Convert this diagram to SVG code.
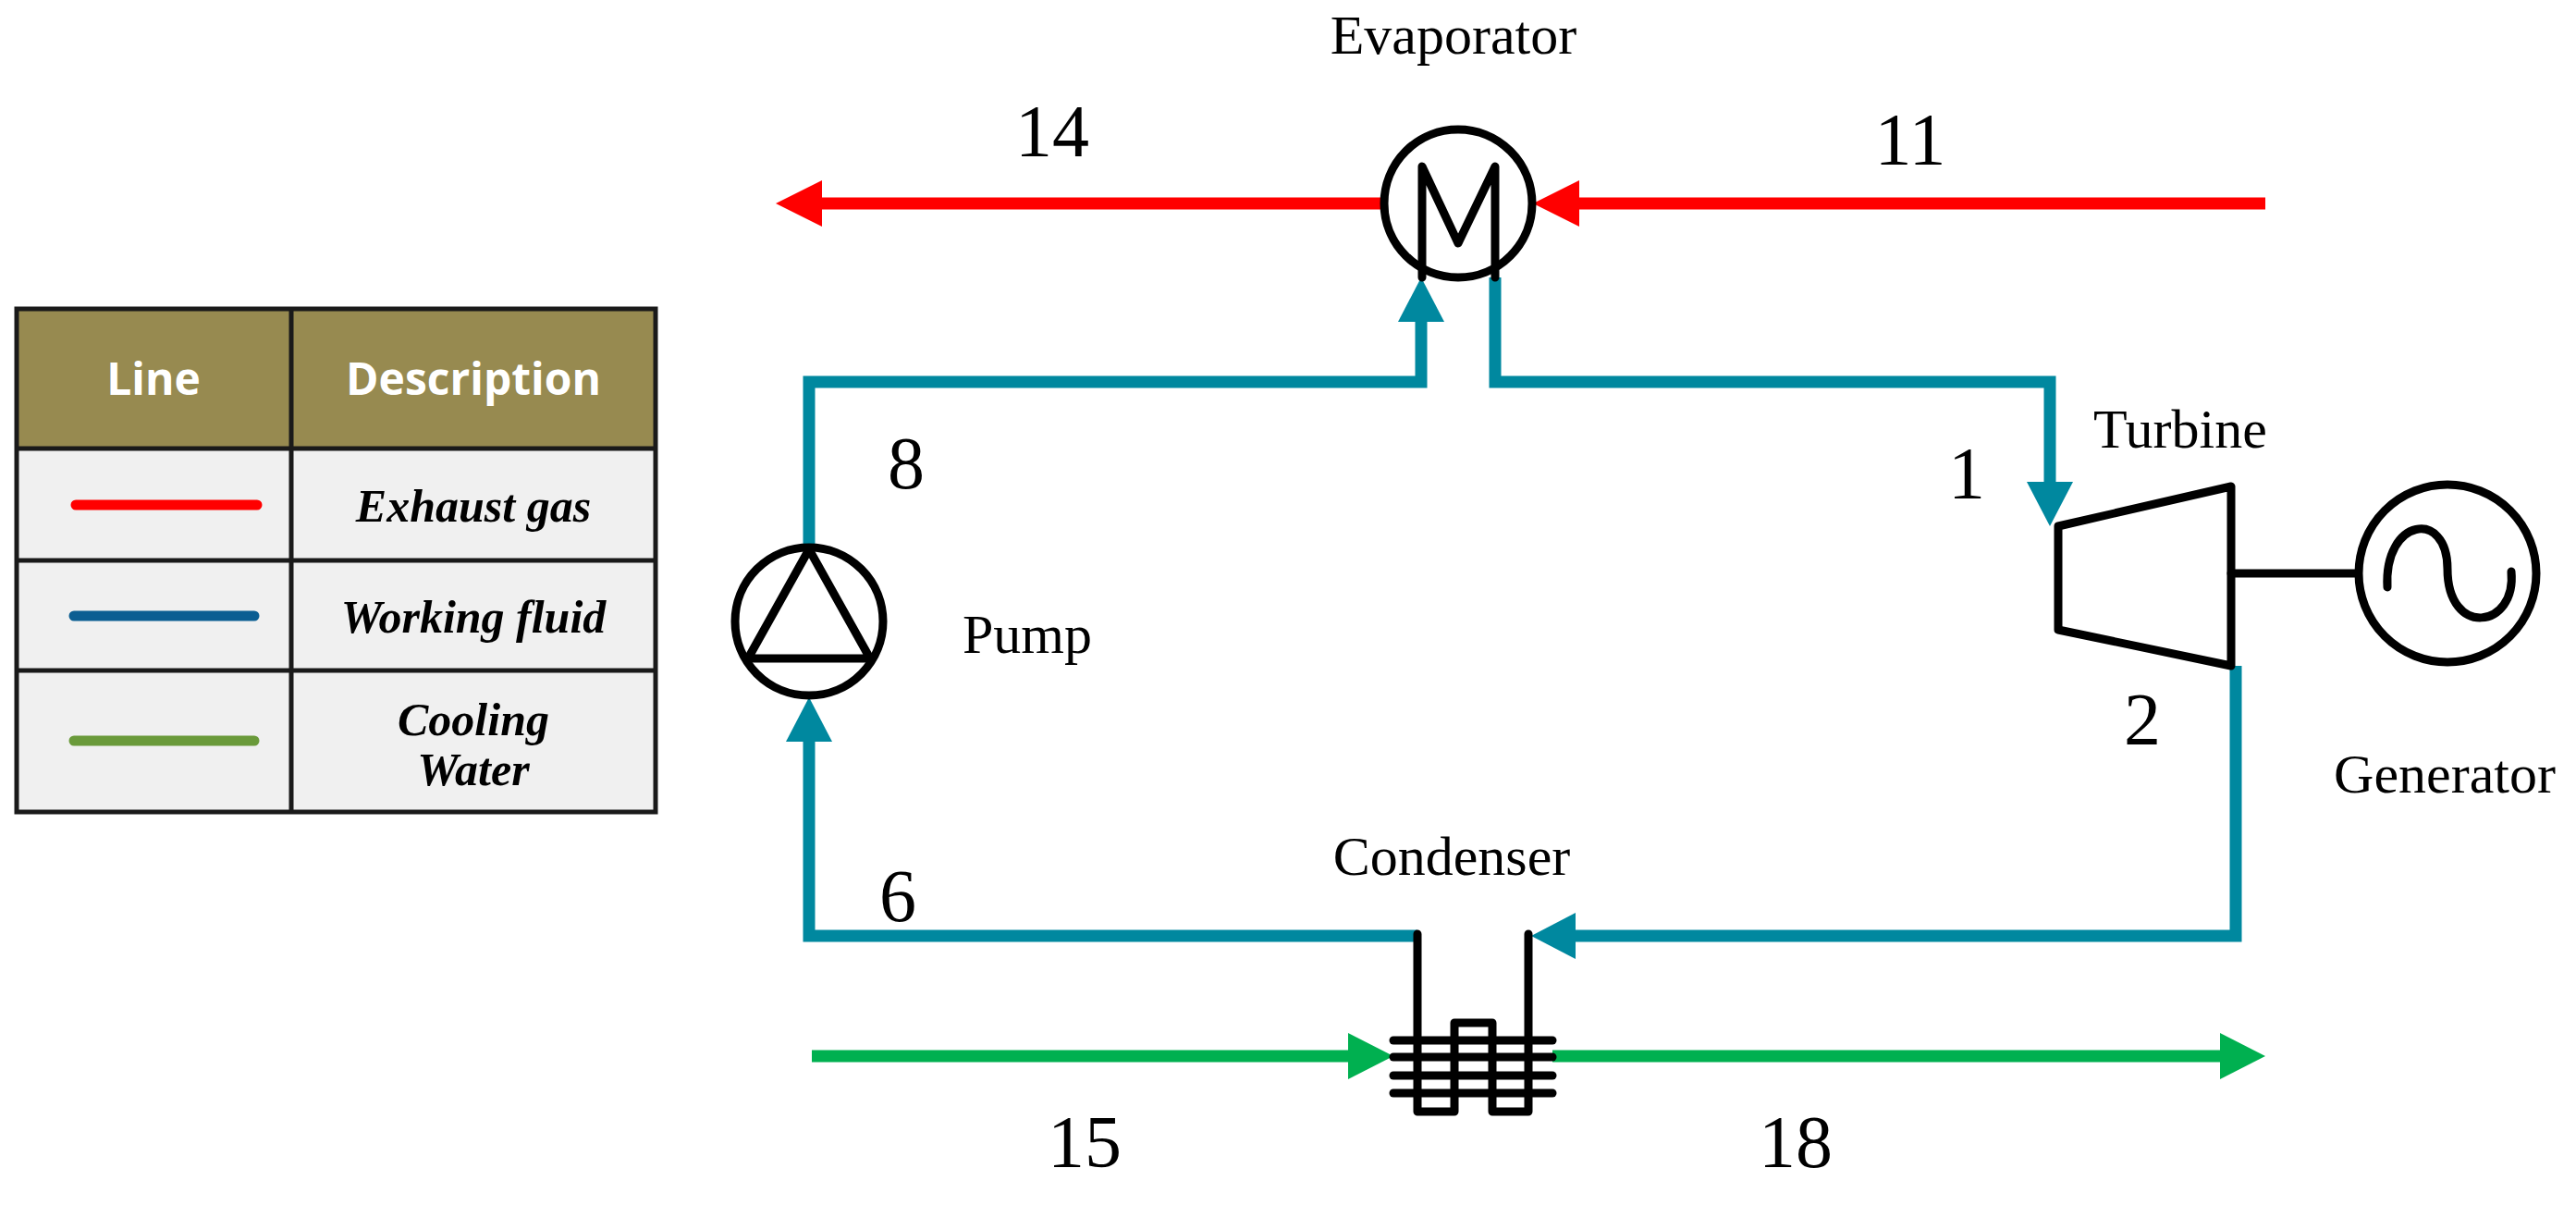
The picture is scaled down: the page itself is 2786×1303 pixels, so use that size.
<svg xmlns="http://www.w3.org/2000/svg" width="2786" height="1303" viewBox="0 0 2786 1303">
<style>
.t{font-family:"Liberation Serif",serif;fill:#000}
.lbl{font-size:60px}
.num{font-size:80px}
.red{stroke:#ff0000;stroke-width:13;fill:none}
.teal{stroke:#00889f;stroke-width:13;fill:none}
.grn{stroke:#00b050;stroke-width:13;fill:none}
.blk{stroke:#000;stroke-width:9;fill:none;stroke-linejoin:round;stroke-linecap:round}
.hd{font-family:"Open Sans","Noto Sans",sans-serif;font-weight:bold;font-size:48px;fill:#fff}
.it{font-family:"Liberation Serif",serif;font-weight:bold;font-style:italic;font-size:50px;fill:#000}
</style>
<rect width="2786" height="1303" fill="#fff"/>
<g id="legend">
<rect x="18" y="334" width="691" height="151" fill="#978a50"/>
<rect x="18" y="485" width="691" height="393" fill="#f0f0f0"/>
<g stroke="#1a1a1a" stroke-width="5" fill="none">
<rect x="18" y="334" width="691" height="544"/>
<line x1="315" y1="334" x2="315" y2="878"/>
<line x1="18" y1="485" x2="709" y2="485"/>
<line x1="18" y1="606" x2="709" y2="606"/>
<line x1="18" y1="725" x2="709" y2="725"/>
</g>
<text class="hd" x="166" y="427" text-anchor="middle">Line</text>
<text class="hd" x="512" y="427" text-anchor="middle">Description</text>
<line x1="82" y1="546" x2="278" y2="546" stroke="#ff0000" stroke-width="11" stroke-linecap="round"/>
<line x1="80" y1="666" x2="275" y2="666" stroke="#0b5e92" stroke-width="11" stroke-linecap="round"/>
<line x1="80" y1="801" x2="275" y2="801" stroke="#6a9a3a" stroke-width="11" stroke-linecap="round"/>
<text class="it" x="512" y="564" text-anchor="middle">Exhaust gas</text>
<text class="it" x="512" y="684" text-anchor="middle">Working fluid</text>
<text class="it" x="512" y="795" text-anchor="middle">Cooling</text>
<text class="it" x="512" y="849" text-anchor="middle">Water</text>
</g>
<g id="connectors">
<line class="red" x1="2450" y1="220" x2="1700" y2="220"/>
<polygon points="1658,220 1708,195 1708,245" fill="#ff0000"/>
<line class="red" x1="1497" y1="220" x2="880" y2="220"/>
<polygon points="839,220 889,195 889,245" fill="#ff0000"/>
<polyline class="teal" points="875,590 875,413 1537,413 1537,340"/>
<polygon points="1537,300 1512,348 1562,348" fill="#00889f"/>
<polyline class="teal" points="1617,300 1617,413 2217,413 2217,530"/>
<polygon points="2217,569 2192,521 2242,521" fill="#00889f"/>
<polyline class="teal" points="2418,720 2418,1012 1700,1012"/>
<polygon points="1656,1012 1704,987 1704,1037" fill="#00889f"/>
<polyline class="teal" points="1533,1012 875,1012 875,795"/>
<polygon points="875,754 850,802 900,802" fill="#00889f"/>
<line class="grn" x1="878" y1="1142" x2="1465" y2="1142"/>
<polygon points="1507,1142 1458,1117 1458,1167" fill="#00b050"/>
<line class="grn" x1="1679" y1="1142" x2="2410" y2="1142"/>
<polygon points="2450,1142 2401,1117 2401,1167" fill="#00b050"/>
<line class="blk" x1="2413" y1="620" x2="2550" y2="620"/>
</g>
<g id="evaporator">
<circle class="blk" cx="1577" cy="220" r="80"/>
<polyline class="blk" points="1538,300 1538,180 1577,263 1617,180 1617,300" stroke-linecap="butt"/>
<text class="t lbl" x="1572" y="58" text-anchor="middle">Evaporator</text>
</g>
<g id="turbine">
<polygon class="blk" points="2226,569 2413,526 2413,720 2226,681"/>
<text class="t lbl" x="2358" y="484" text-anchor="middle">Turbine</text>
</g>
<g id="generator">
<circle class="blk" cx="2647" cy="620" r="96"/>
<path class="blk" d="M2582,635 C2578,560 2647,550 2647,615 C2647,690 2722,680 2716,618"/>
<text class="t lbl" x="2644" y="857" text-anchor="middle">Generator</text>
</g>
<g id="pump">
<circle class="blk" cx="875" cy="672" r="80"/>
<polygon class="blk" points="875,594 809,712 941,712"/>
<text class="t lbl" x="1111" y="706" text-anchor="middle">Pump</text>
</g>
<g id="condenser">
<path class="blk" d="M1533,1010 V1202 H1573 V1106 H1614 V1202 H1653 V1010"/>
<line class="blk" x1="1507" y1="1125" x2="1679" y2="1125"/>
<line class="blk" x1="1507" y1="1143" x2="1679" y2="1143"/>
<line class="blk" x1="1507" y1="1163" x2="1679" y2="1163"/>
<line class="blk" x1="1507" y1="1182" x2="1679" y2="1182"/>
<text class="t lbl" x="1570" y="946" text-anchor="middle">Condenser</text>
</g>
<g id="labels">
<text class="t num" x="1138" y="169" text-anchor="middle">14</text>
<text class="t num" x="2066" y="178" text-anchor="middle">11</text>
<text class="t num" x="980" y="528" text-anchor="middle">8</text>
<text class="t num" x="2127" y="539" text-anchor="middle">1</text>
<text class="t num" x="2317" y="805" text-anchor="middle">2</text>
<text class="t num" x="971" y="996" text-anchor="middle">6</text>
<text class="t num" x="1173" y="1262" text-anchor="middle">15</text>
<text class="t num" x="1942" y="1262" text-anchor="middle">18</text>
</g>
</svg>
